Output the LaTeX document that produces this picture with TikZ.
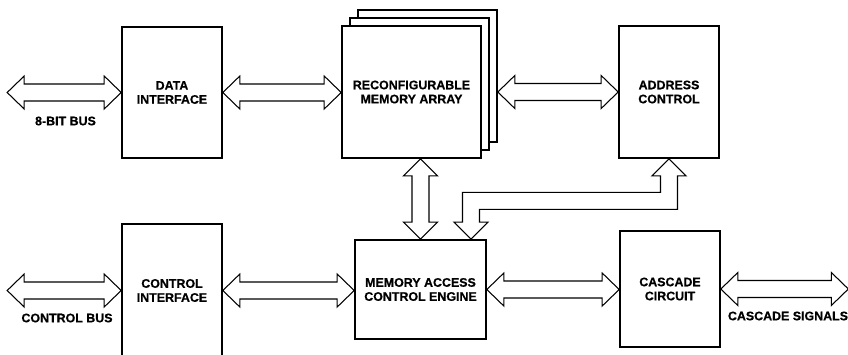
\documentclass[tikz,border=0pt]{standalone}
\usepackage{fontspec}
\setmainfont[FakeBold=0.45]{Liberation Sans}
\usetikzlibrary{calc}
\tikzset{
  blk/.style={draw, line width=1.4pt, fill=white, align=center, inner sep=0pt,
    font=\fontsize{10.6}{12}\selectfont\bfseries},
  bus/.style={draw, line width=0.9pt, line join=miter},
  lbl/.style={font=\fontsize{10.6}{12}\selectfont\bfseries, inner sep=0pt},
}
% horizontal hollow double arrow: left tip, right tip
\newcommand{\hbusarrow}[2]{%
  \path[bus] #1 -- ++(17,-16.5) -- ++(0,8) -- ($#2+(-17,-8.5)$) -- ++(0,-8) -- #2
    -- ++(-17,16.5) -- ++(0,-8) -- ($#1+(17,8.5)$) -- ++(0,8) -- cycle;}
% vertical hollow double arrow: top tip, bottom tip
\newcommand{\vbusarrow}[2]{%
  \path[bus] #1 -- ++(17,17) -- ++(-8.5,0) -- ($#2+(8.5,-17)$) -- ++(8.5,0) -- #2
    -- ++(-17,-17) -- ++(8.5,0) -- ($#1+(-8.5,17)$) -- ++(-8.5,0) -- cycle;}
\begin{document}
\begin{tikzpicture}[x=0.03cm, y=-0.03cm]
\useasboundingbox (0,0) rectangle (848,354);
% blocks
\node[blk, minimum width=3cm, minimum height=3.93cm] (di) at (172,92.5) {DATA\\INTERFACE};
\node[blk, minimum width=4.17cm, minimum height=3.96cm] (mem3) at (427.5,76) {};
\node[blk, minimum width=4.17cm, minimum height=3.96cm] (mem2) at (419.5,84) {};
\node[blk, minimum width=4.17cm, minimum height=3.96cm] (mem) at (411.5,92) {RECONFIGURABLE\\MEMORY ARRAY};
\node[blk, minimum width=3cm, minimum height=3.96cm] (addr) at (669,92) {ADDRESS\\CONTROL};
\node[blk, minimum width=3cm, minimum height=3.99cm] (ci) at (172,290.5) {CONTROL\\INTERFACE};
\node[blk, minimum width=3.93cm, minimum height=2.97cm] (mace) at (420.5,289.5) {MEMORY ACCESS\\CONTROL ENGINE};
\node[blk, minimum width=3cm, minimum height=3.48cm] (cas) at (670,289) {CASCADE\\CIRCUIT};
% labels
\node[lbl] (l8) at (65.5,121) {8-BIT BUS};
\node[lbl] (lcb) at (67,318) {CONTROL BUS};
\node[lbl] (lcs) at (788,316) {CASCADE SIGNALS};
% free ends
\coordinate (b8) at ($(di.west)+(-114,0)$);
\coordinate (cb) at ($(ci.west)+(-114,0)$);
\coordinate (cs) at ($(cas.east)+(127.5,0)$);
% horizontal buses
\hbusarrow{(b8)}{(di.west)}
\hbusarrow{(di.east)}{(mem.west |- di.east)}
\hbusarrow{(mem3.east |- mem.east)}{(addr.west |- mem.east)}
\hbusarrow{(cb)}{(ci.west)}
\hbusarrow{(ci.east)}{(mace.west |- ci.east)}
\hbusarrow{(mace.east)}{(cas.west |- mace.east)}
\hbusarrow{(cas.east)}{(cs)}
% vertical bus memory <-> engine
\vbusarrow{(mace.north |- mem.south)}{(mace.north)}
% bent bus address control <-> engine
\coordinate (mtip) at ($(mace.north)+(50.5,0)$);
\coordinate (elbow) at ($(addr.south)+(0,42)$);
\coordinate (elbow2) at (mtip |- elbow);
\path[bus] (addr.south) -- ++(17,17) -- ++(-8.5,0) -- ($(elbow)+(8.5,8.5)$)
  -- ($(elbow2)+(8.5,8.5)$) -- ($(mtip)+(8.5,-17)$) -- ++(8.5,0) -- (mtip)
  -- ++(-17,-17) -- ++(8.5,0) -- ($(elbow2)+(-8.5,-8.5)$) -- ($(elbow)+(-8.5,-8.5)$)
  -- ($(addr.south)+(-8.5,17)$) -- ++(-8.5,0) -- cycle;
\end{tikzpicture}
\end{document}
